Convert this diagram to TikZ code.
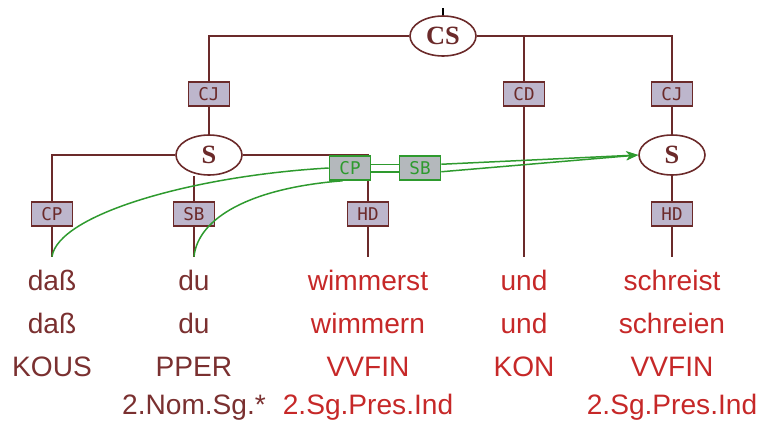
\documentclass[tikz,border=0pt]{standalone}
\usepackage{fontspec}
\setmainfont{Liberation Sans}
\newfontfamily\catfont{Liberation Serif}
\newfontfamily\lblfont{DejaVu Sans Mono}
\usetikzlibrary{shapes.geometric, arrows.meta, positioning}
\definecolor{treeline}{HTML}{6B2A2A}
\definecolor{worddark}{HTML}{7A3030}
\definecolor{wordred}{HTML}{C62828}
\definecolor{lblfill}{HTML}{BDB6CC}
\definecolor{secgreen}{HTML}{2E9A2E}
\definecolor{secfill}{HTML}{B4B8BC}

\begin{document}
\begin{tikzpicture}[x=0.02cm, y=-0.02cm, >=Stealth,
    tree/.style={draw=treeline, line width=1.1pt},
    sec/.style={draw=secgreen, line width=0.85pt},
    cat/.style={draw=treeline, line width=0.9pt, ellipse, fill=white, minimum width=1.32cm, minimum height=0.8cm, inner sep=0pt, text=treeline, font=\catfont\bfseries\fontsize{15}{15}\selectfont},
    edgelbl/.style={draw=treeline, line width=0.9pt, fill=lblfill, minimum width=0.82cm, minimum height=0.48cm, inner sep=0pt, text=treeline, font=\lblfont\fontsize{10}{10}\selectfont},
    seclbl/.style={edgelbl, draw=secgreen, fill=secfill, text=secgreen},
    word/.style={anchor=base, inner sep=0pt, text height=0.66cm, text depth=0.1cm, font=\fontsize{16}{16}\selectfont}]
    \useasboundingbox (0,0) rectangle (765,420);

    % tree nodes
    \coordinate (root) at (443,8);
    \node[cat] (cs) at (443,36) {CS};
    \node[cat] (s1) at (209,155) {S};
    \node[cat] (s2) at (672,155) {S};

    % edge labels
    \node[edgelbl] (cj1) at (209,94) {CJ};
    \node[edgelbl] (cd) at (524,94) {CD};
    \node[edgelbl] (cj2) at (672,94) {CJ};
    \node[edgelbl] (cp1) at (52,214) {CP};
    \node[edgelbl] (sb1) at (194,214) {SB};
    \node[edgelbl] (hd1) at (368,214) {HD};
    \node[edgelbl] (hd2) at (672,214) {HD};

    % terminals
    \node[word, text=worddark] (w1) at (52,290) {daß};
    \node[word, text=worddark] (w2) at (194,290) {du};
    \node[word, text=wordred] (w3) at (368,290) {wimmerst};
    \node[word, text=wordred] (w4) at (524,290) {und};
    \node[word, text=wordred] (w5) at (672,290) {schreist};

    \node[word, text=worddark] (l1) at (52,333) {daß};
    \node[word, text=worddark] (l2) at (194,333) {du};
    \node[word, text=wordred] (l3) at (368,333) {wimmern};
    \node[word, text=wordred] (l4) at (524,333) {und};
    \node[word, text=wordred] (l5) at (672,333) {schreien};

    \node[word, text=worddark] (p1) at (52,376) {KOUS};
    \node[word, text=worddark] (p2) at (194,376) {PPER};
    \node[word, text=wordred] (p3) at (368,376) {VVFIN};
    \node[word, text=wordred] (p4) at (524,376) {KON};
    \node[word, text=wordred] (p5) at (672,376) {VVFIN};

    \node[word, text=worddark] (m2) at (194,414) {2.Nom.Sg.*};
    \node[word, text=wordred] (m3) at (368,414) {2.Sg.Pres.Ind};
    \node[word, text=wordred] (m5) at (672,414) {2.Sg.Pres.Ind};

    % edges
    \draw[line width=1pt] (root) -- (cs.north);
    \draw[tree] (cs.west) -| (cj1.north);
    \draw[tree] (cj1.south) -- (s1.north);
    \draw[tree] (cs.east) -| (cd.north);
    \draw[tree] (cd.south) -- (w4.north);
    \draw[tree] (cs.east) -| (cj2.north);
    \draw[tree] (cj2.south) -- (s2.north);

    \draw[tree] (s1.west) -| (cp1.north);
    \draw[tree] (cp1.south) -- (w1.north);
    \draw[tree] (sb1.north |- s1.south) -- (sb1.north);
    \draw[tree] (sb1.south) -- (w2.north);
    \draw[tree] (s1.east) -| (hd1.north);
    \draw[tree] (hd1.south) -- (w3.north);

    \draw[tree] (s2.south) -- (hd2.north);
    \draw[tree] (hd2.south) -- (w5.north);

    % secondary edges
    \node[seclbl] (cp2) at (350,168) {CP};
    \node[seclbl] (sb2) at (420,168) {SB};
    \draw[sec] (w1.north) .. controls (58,215) and (190,176) .. (cp2.west);
    \draw[sec] (w2.north) .. controls (198,218) and (250,188) .. (cp2.240);
    \draw[sec] (cp2.10) -- (sb2.170);
    \draw[sec] (cp2.350) -- (sb2.190);
    \draw[sec, ->] (sb2.10) -- (s2.west);
    \draw[sec, ->] (sb2.350) -- (s2.west);
\end{tikzpicture}
\end{document}
